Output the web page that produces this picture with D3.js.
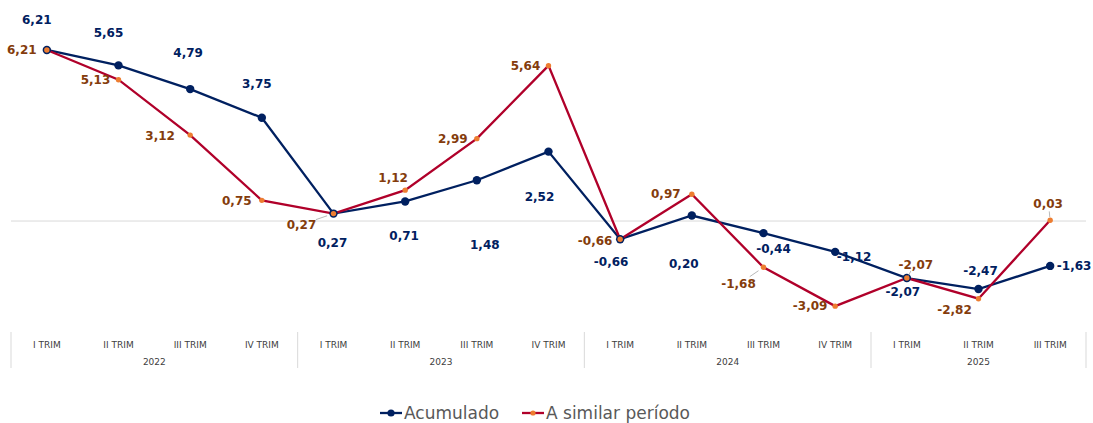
<!DOCTYPE html>
<html>
<head>
<meta charset="utf-8">
<script src="https://cdn.jsdelivr.net/npm/d3@7"></script>
<style>
  body { margin: 0; background: #fff; }
  svg { display: block; }
</style>
</head>
<body>
<script>
var w = 1093;
var h = 423;

// data
var quarters = ["I TRIM", "II TRIM", "III TRIM", "IV TRIM",
                "I TRIM", "II TRIM", "III TRIM", "IV TRIM",
                "I TRIM", "II TRIM", "III TRIM", "IV TRIM",
                "I TRIM", "II TRIM", "III TRIM"];
var years = ["2022", "2023", "2024", "2025"];
var year_span = [4, 4, 4, 3];
var acumulado = [6.21, 5.65, 4.79, 3.75, 0.27, 0.71, 1.48, 2.52, -0.66, 0.20, -0.44, -1.12, -2.07, -2.47, -1.63];
var similar = [6.21, 5.13, 3.12, 0.75, 0.27, 1.12, 2.99, 5.64, -0.66, 0.97, -1.68, -3.09, -2.07, -2.82, 0.03];
var series_names = ["Acumulado", "A similar período"];

// label placement (offset from the point), layout only
var acu_offsets = [[-10,-30],[-10,-32],[-2,-36],[-5,-34],[-1,29],[-1,35],[8,65],[-9,45],
                   [-9,23],[-8,48],[10,16],[19,5],[-4,14],[2,-18],[24,0]];
var sim_offsets = [[-25,0],[-23,0],[-30,1],[-25,1],[-32,11],[-12,-12],[-24,0],[-23,0],
                   [-25,2],[-26,0],[-25,17],[-25,0],[9,-13],[-24,11],[-2,-16]];
var sim_leaders = [4, 10, 12, 14];

var navy = "#002060";
var red = "#b0002a";
var orange = "#ed7d31";
var brown = "#843c0c";

var svg = d3.select("body").append("svg").attr("width", w).attr("height", h);

var x = d3.scaleBand().domain(d3.range(quarters.length)).range([11, 1086]);
var y = d3.scaleLinear().domain([-4, 7]).range([331.2, 28.2]);
function cx(i) { return x(i) + x.bandwidth() / 2; }
function fmt(v) { return v.toFixed(2).replace(".", ","); }

// zero line
svg.append("line")
  .attr("x1", 11).attr("x2", 1086)
  .attr("y1", y(0)).attr("y2", y(0))
  .attr("stroke", "#d9d9d9").attr("stroke-width", 1);

// category axis
svg.selectAll(".qlab").data(quarters).enter()
  .append("text")
  .attr("class", "qlab")
  .attr("x", function(d, i) { return cx(i); })
  .attr("y", 348)
  .attr("text-anchor", "middle")
  .attr("font-family", "DejaVu Sans, Verdana, sans-serif")
  .attr("font-size", 9)
  .attr("fill", "#404040")
  .text(function(d) { return d; });

var start = 0;
var seps = [0];
years.forEach(function(yr, k) {
  var a = x(start), b = x(start + year_span[k] - 1) + x.bandwidth();
  svg.append("text")
    .attr("x", (a + b) / 2).attr("y", 365)
    .attr("text-anchor", "middle")
    .attr("font-family", "DejaVu Sans, Verdana, sans-serif")
    .attr("font-size", 9)
    .attr("fill", "#404040")
    .text(yr);
  start += year_span[k];
  seps.push(start);
});
svg.selectAll(".sep").data(seps).enter()
  .append("line")
  .attr("x1", function(d) { return d < quarters.length ? x(d) : 1086; })
  .attr("x2", function(d) { return d < quarters.length ? x(d) : 1086; })
  .attr("y1", 332).attr("y2", 368)
  .attr("stroke", "#d9d9d9").attr("stroke-width", 1);

var line = d3.line()
  .x(function(d, i) { return cx(i); })
  .y(function(d) { return y(d); });

// Acumulado
svg.append("path").datum(acumulado)
  .attr("d", line).attr("fill", "none")
  .attr("stroke", navy).attr("stroke-width", 2.3);

// A similar periodo
svg.append("path").datum(similar)
  .attr("d", line).attr("fill", "none")
  .attr("stroke", red).attr("stroke-width", 2.3);

svg.selectAll(".acu").data(acumulado).enter()
  .append("circle")
  .attr("class", "acu")
  .attr("cx", function(d, i) { return cx(i); })
  .attr("cy", function(d) { return y(d); })
  .attr("r", 4.2)
  .attr("fill", navy);

svg.selectAll(".sim").data(similar).enter()
  .append("circle")
  .attr("class", "sim")
  .attr("cx", function(d, i) { return cx(i); })
  .attr("cy", function(d) { return y(d); })
  .attr("r", 2.7)
  .attr("fill", orange);

// leader lines
svg.selectAll(".leader").data(sim_leaders).enter()
  .append("line")
  .attr("x1", function(i) { return cx(i) + sim_offsets[i][0] * 0.2; })
  .attr("y1", function(i) { return y(similar[i]) + sim_offsets[i][1] * 0.2; })
  .attr("x2", function(i) { return cx(i) + sim_offsets[i][0] * (Math.abs(sim_offsets[i][0]) > 20 ? 0.55 : 0.45); })
  .attr("y2", function(i) { return y(similar[i]) + sim_offsets[i][1] * 0.55; })
  .attr("stroke", "#a6a6a6").attr("stroke-width", 0.8);

// value labels
svg.selectAll(".acu-lab").data(acumulado).enter()
  .append("text")
  .attr("x", function(d, i) { return cx(i) + acu_offsets[i][0]; })
  .attr("y", function(d, i) { return y(d) + acu_offsets[i][1]; })
  .attr("text-anchor", "middle")
  .attr("dominant-baseline", "central")
  .attr("font-family", "DejaVu Sans, Verdana, sans-serif")
  .attr("font-weight", "bold")
  .attr("font-size", 12)
  .attr("fill", navy)
  .text(fmt);

svg.selectAll(".sim-lab").data(similar).enter()
  .append("text")
  .attr("x", function(d, i) { return cx(i) + sim_offsets[i][0]; })
  .attr("y", function(d, i) { return y(d) + sim_offsets[i][1]; })
  .attr("text-anchor", "middle")
  .attr("dominant-baseline", "central")
  .attr("font-family", "DejaVu Sans, Verdana, sans-serif")
  .attr("font-weight", "bold")
  .attr("font-size", 12)
  .attr("fill", brown)
  .text(fmt);

// legend
var legend = [
  { name: series_names[0], x: 380, stroke: navy, dot: navy, r: 3.6 },
  { name: series_names[1], x: 522, stroke: red, dot: orange, r: 2.6 }
];
var lg = svg.selectAll(".legend").data(legend).enter().append("g")
  .attr("transform", function(d) { return "translate(" + d.x + ",413)"; });
lg.append("line").attr("x1", 0).attr("x2", 22).attr("y1", 0).attr("y2", 0)
  .attr("stroke", function(d) { return d.stroke; }).attr("stroke-width", 2.3);
lg.append("circle").attr("cx", 11).attr("cy", 0)
  .attr("r", function(d) { return d.r; })
  .attr("fill", function(d) { return d.dot; });
lg.append("text").attr("x", 24).attr("y", 0)
  .attr("dominant-baseline", "central")
  .attr("font-family", "DejaVu Sans, Verdana, sans-serif")
  .attr("font-size", 17)
  .attr("fill", "#595959")
  .text(function(d) { return d.name; });
</script>
</body>
</html>
